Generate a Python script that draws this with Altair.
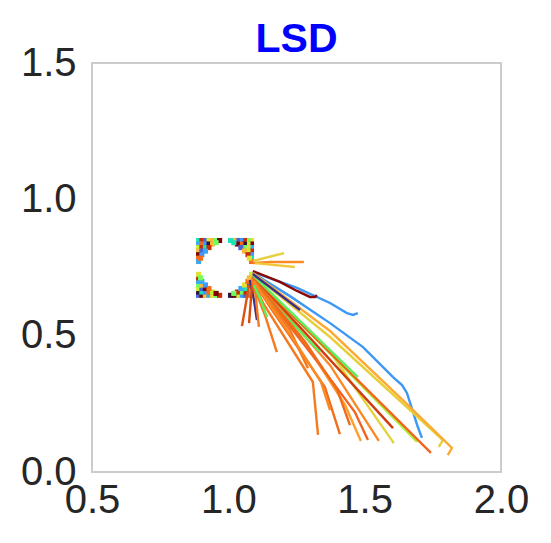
import altair as alt
import pandas as pd

# ---- trajectories (data units) ----
line_x = [
    [1.090, 1.226, 1.373, 1.494, 1.604, 1.637, 1.655, 1.695, 1.710],
    [1.090, 1.252, 1.373, 1.435, 1.457, 1.475],
    [1.090, 1.189, 1.252, 1.299, 1.318, 1.325],
    [1.090, 1.204],
    [1.090, 1.153, 1.277],
    [1.098, 1.244],
    [1.087, 1.127, 1.310, 1.329],
    [1.090, 1.153, 1.354, 1.409],
    [1.098, 1.299, 1.428, 1.486],
    [1.094, 1.336, 1.464, 1.512],
    [1.094, 1.373, 1.552],
    [1.094, 1.373, 1.607],
    [1.090, 1.604],
    [1.090, 1.692],
    [1.090, 1.743],
    [1.090, 1.373, 1.787, 1.772],
    [1.090, 1.373, 1.640, 1.820, 1.805],
    [1.090, 1.475],
    [1.098, 1.336],
    [1.079, 1.094, 1.105],
    [1.090, 1.263],
    [1.076, 1.050],
    [1.087, 1.076],
    [1.098, 1.112],
    [1.087, 1.134, 1.178],
    [1.090, 1.226, 1.292],
    [1.094, 1.116, 1.142],
    [1.092, 1.280, 1.400, 1.446],
    [1.092, 1.250, 1.340, 1.373],
]
line_y = [
    [0.730, 0.645, 0.546, 0.458, 0.348, 0.319, 0.290, 0.165, 0.125],
    [0.733, 0.675, 0.620, 0.583, 0.576, 0.583],
    [0.737, 0.697, 0.664, 0.642, 0.642, 0.649],
    [0.774, 0.803],
    [0.766, 0.770, 0.770],
    [0.766, 0.752],
    [0.711, 0.620, 0.330, 0.136],
    [0.704, 0.605, 0.312, 0.139],
    [0.697, 0.447, 0.246, 0.114],
    [0.704, 0.392, 0.220, 0.117],
    [0.711, 0.392, 0.114],
    [0.715, 0.440, 0.106],
    [0.719, 0.161],
    [0.722, 0.110],
    [0.719, 0.070],
    [0.726, 0.495, 0.117, 0.092],
    [0.730, 0.517, 0.264, 0.088, 0.062],
    [0.722, 0.348],
    [0.686, 0.440],
    [0.704, 0.631, 0.557],
    [0.726, 0.594],
    [0.686, 0.535],
    [0.686, 0.546],
    [0.667, 0.532],
    [0.697, 0.576, 0.440],
    [0.704, 0.521, 0.381],
    [0.686, 0.638, 0.568],
    [0.708, 0.480, 0.300, 0.172],
    [0.700, 0.470, 0.330, 0.227],
]
line_colors = [
    "#3d97f5", "#3d97f5", "#8b0a05", "#e6cf3a", "#fb8a25", "#f0c83a",
    "#f57a1f", "#f26d1c", "#fca030", "#f0651e", "#fb8a25", "#e6d23c",
    "#cc3d10", "#aef03e", "#f2641c", "#e6cf3a", "#fcaa33", "#5cf05c",
    "#5cf05c", "#3b2e8a", "#3b2e8a", "#e0500f", "#d94a0c", "#f57a1f",
    "#f57a1f", "#f57a1f", "#5cf05c", "#f06a1c", "#fb8a25",
]

# ---- particles in the corners around the obstacle (data units) ----
dot_x = [
    # top-left
    0.891, 0.903, 0.916, 0.929, 0.942, 0.955, 0.968, 0.891, 0.903, 0.916, 0.929,
    0.891, 0.903, 0.916, 0.891, 0.903, 0.891, 0.891, 0.891,
    0.942, 0.929, 0.916, 0.903, 0.955, 0.898,
    # top-right
    1.085, 1.072, 1.059, 1.046, 1.033, 1.020, 1.008, 1.085, 1.072, 1.059, 1.046,
    1.085, 1.072, 1.059, 1.085, 1.072, 1.085, 1.085, 1.085,
    1.033, 1.046, 1.059, 1.072, 1.020, 1.077,
    # bottom-left
    0.891, 0.903, 0.916, 0.929, 0.942, 0.955, 0.968, 0.891, 0.903, 0.916, 0.929,
    0.891, 0.903, 0.916, 0.891, 0.903, 0.891, 0.891, 0.891,
    0.942, 0.929, 0.916, 0.903, 0.955, 0.898,
    # bottom-right
    1.085, 1.072, 1.059, 1.046, 1.033, 1.020, 1.008, 1.085, 1.072, 1.059, 1.046,
    1.085, 1.072, 1.059, 1.085, 1.072, 1.085, 1.085, 1.085,
    1.033, 1.046, 1.059, 1.072, 1.020, 1.077,
]
dot_y = [
    0.849, 0.849, 0.849, 0.849, 0.849, 0.849, 0.849, 0.836, 0.836, 0.836, 0.836,
    0.823, 0.823, 0.823, 0.810, 0.810, 0.797, 0.784, 0.772,
    0.836, 0.823, 0.810, 0.797, 0.841, 0.784,
    0.849, 0.849, 0.849, 0.849, 0.849, 0.849, 0.849, 0.836, 0.836, 0.836, 0.836,
    0.823, 0.823, 0.823, 0.810, 0.810, 0.797, 0.784, 0.772,
    0.836, 0.823, 0.810, 0.797, 0.841, 0.784,
    0.648, 0.648, 0.648, 0.648, 0.648, 0.648, 0.648, 0.660, 0.660, 0.660, 0.660,
    0.673, 0.673, 0.673, 0.686, 0.686, 0.699, 0.712, 0.725,
    0.660, 0.673, 0.686, 0.699, 0.655, 0.712,
    0.648, 0.648, 0.648, 0.648, 0.648, 0.648, 0.648, 0.660, 0.660, 0.660, 0.660,
    0.673, 0.673, 0.673, 0.686, 0.686, 0.699, 0.712, 0.725,
    0.660, 0.673, 0.686, 0.699, 0.655, 0.712,
]
palette = ["#30123b", "#4662d7", "#36aaf9", "#1ae4b6", "#72fe5e", "#c8ef34",
           "#faba39", "#f66b19", "#ca2a04", "#7a0403", "#e4e036", "#3e9bfe"]
dot_color_idx = [
    3, 8, 1, 10, 6, 4, 9, 2, 7, 11, 0, 5, 8, 3, 6, 1, 9, 7, 2, 6, 8, 2, 11, 4, 7,
    10, 4, 8, 11, 1, 6, 3, 9, 5, 0, 7, 2, 10, 4, 8, 5, 11, 3, 7, 9, 1, 6, 8, 3, 10,
    1, 9, 6, 2, 10, 4, 8, 0, 3, 11, 7, 5, 1, 9, 4, 6, 2, 8, 10, 5, 7, 11, 2, 9, 4,
    3, 7, 1, 11, 5, 9, 0, 6, 2, 8, 4, 7, 10, 3, 9, 1, 6, 11, 5, 8, 2, 10, 7, 4, 6,
]

x_ticks = [0.5, 1.0, 1.5, 2.0]
y_ticks = [0.0, 0.5, 1.0, 1.5]
title_text = "LSD"

rows = []
for k, (xs, ys) in enumerate(zip(line_x, line_y)):
    for i, (a, b) in enumerate(zip(xs, ys)):
        rows.append({"line": k, "i": i, "x": a, "y": b, "color": line_colors[k]})
lines_df = pd.DataFrame(rows)
dots_df = pd.DataFrame({"x": dot_x, "y": dot_y,
                        "color": [palette[c] for c in dot_color_idx]})

common_axis = dict(format=".1f", labelFontSize=40, labelColor="#262626",
                   labelFont="Liberation Sans", domain=False, ticks=False,
                   tickSize=0, grid=False, title=None, labelFlush=False,
                   labelOverlap=False, labelBound=False)
xenc = alt.X("x:Q", scale=alt.Scale(domain=[0.5, 2.0], nice=False, zero=False),
             axis=alt.Axis(values=x_ticks, labelPadding=8, **common_axis))
yenc = alt.Y("y:Q", scale=alt.Scale(domain=[0.0, 1.5], nice=False, zero=False),
             axis=alt.Axis(values=y_ticks, labelPadding=16, **common_axis))

lines = alt.Chart(lines_df).mark_line(strokeWidth=2.4).encode(
    x=xenc, y=yenc, detail="line:N", order="i:Q",
    color=alt.Color("color:N", scale=None),
)
dots = alt.Chart(dots_df).mark_square(size=26, opacity=1).encode(
    x=xenc, y=yenc, color=alt.Color("color:N", scale=None),
)
title = alt.Chart(pd.DataFrame({"t": [title_text]})).mark_text(
    font="Liberation Sans", fontSize=41, fontWeight="bold", color="blue",
    align="center", baseline="alphabetic",
).encode(text="t:N", x=alt.value(204.5), y=alt.value(-11))

chart = alt.layer(dots, lines, title).properties(
    width=409, height=409,
    autosize=alt.AutoSizeParams(type="none"),
    padding={"left": 84, "top": 55, "right": 42, "bottom": 70},
).configure_view(stroke="#cccccc", strokeWidth=2)

chart.save("out.html", embed_options={"renderer": "svg", "actions": False})
